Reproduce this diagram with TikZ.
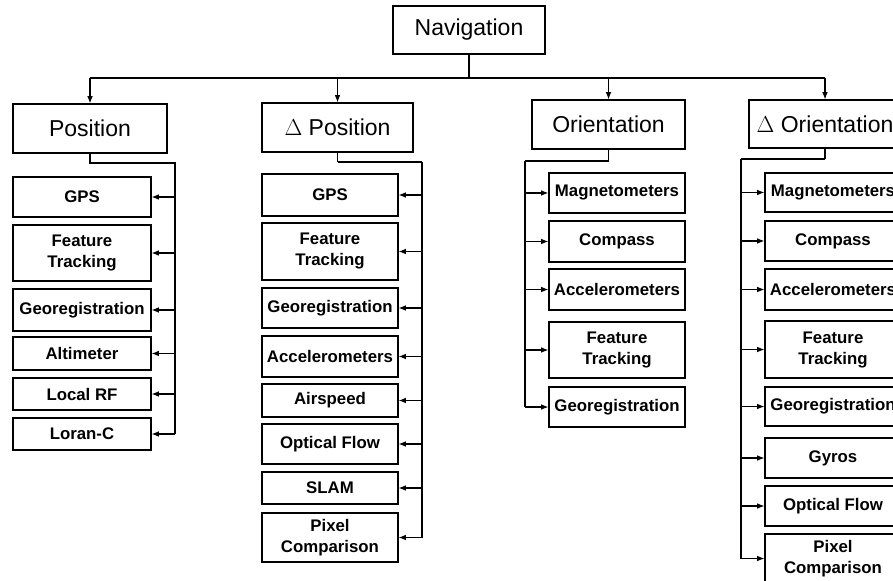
\documentclass[tikz,border=0pt]{standalone}
\usepackage{fontspec}
\setmainfont{Liberation Sans}
\usetikzlibrary{arrows.meta}
\begin{document}
\begin{tikzpicture}[x=0.75pt,y=-0.75pt,
  line width=0.8pt,
  topbox/.style 2 args={draw, line width=0.8pt, inner sep=0pt,
    minimum width=#1*0.75pt, minimum height=#2*0.75pt,
    font=\fontsize{17.25pt}{20pt}\selectfont},
  leaf/.style 2 args={draw, line width=0.8pt, inner sep=0pt, align=center,
    minimum width=#1*0.75pt, minimum height=#2*0.75pt,
    font=\bfseries\fontsize{12.6pt}{15.75pt}\selectfont},
  arr/.style={-{Latex[length=5.5pt,width=4.2pt]}},
  heavy/.style={line width=2pt}]
\clip (0,0) rectangle (893,581);

% top level
\node[topbox={152}{48}] (nav) at (469,30) {Navigation};
\node[topbox={154}{49}] (pos) at (90,128.5) {Position};
\node[topbox={151}{49}] (dpos) at (337.5,127.5) {$\Delta$ Position};
\node[topbox={153}{49}] (ori) at (608.5,124.5) {Orientation};
\node[topbox={152}{48}] (dori) at (825,124) {$\Delta$ Orientation};

% distribution bus
\coordinate (bus) at (469,78);
\draw (nav.south) -- (nav.south |- bus);
\draw (pos.north |- bus) -- (dori.north |- bus);
\foreach \n in {pos,dpos,ori,dori}
  \draw[arr] (\n.north |- bus) -- (\n.north);

% Position branch
\node[leaf={138}{40}] (p1) at (82,197) {GPS};
\node[leaf={138}{56}] (p2) at (82,253) {Feature\\Tracking};
\node[leaf={138}{42}] (p3) at (82,310) {Georegistration};
\node[leaf={138}{33}] (p4) at (82,353.5) {Altimeter};
\node[leaf={138}{32}] (p5) at (82,394) {Local RF};
\node[leaf={138}{32}] (p6) at (82,434) {Loran-C};
\coordinate (pk) at (175,163);
\draw (pos.south) -- (pos.south |- pk) -- (pk) -- (pk |- p6.east);
\foreach \n in {p1,p2,p3,p4,p5,p6}
  \draw[arr] (pk |- \n.east) -- (\n.east);

% Delta Position branch
\node[leaf={136}{42}] (q1) at (330,195) {GPS};
\node[leaf={136}{57}] (q2) at (330,251.5) {Feature\\Tracking};
\node[leaf={136}{40}] (q3) at (330,308) {Georegistration};
\node[leaf={136}{41}] (q4) at (330,356.5) {Accelerometers};
\node[leaf={136}{33}] (q5) at (330,400.5) {Airspeed};
\node[leaf={136}{40}] (q6) at (330,444) {Optical Flow};
\node[leaf={136}{32}] (q7) at (330,488) {SLAM};
\node[leaf={136}{49}] (q8) at (330,537.5) {Pixel\\Comparison};
\coordinate (qk) at (422,162);
\draw (dpos.south) -- (dpos.south |- qk);
\draw[heavy] (dpos.south |- qk) -- (qk);
\draw (qk) -- (qk |- q8.east);
\foreach \n in {q1,q2,q3,q4,q5,q6,q7,q8}
  \draw[arr] (qk |- \n.east) -- (\n.east);

% Orientation branch
\node[leaf={136}{40}] (r1) at (617,193) {Magnetometers};
\node[leaf={136}{41}] (r2) at (617,241.5) {Compass};
\node[leaf={136}{41}] (r3) at (617,289.5) {Accelerometers};
\node[leaf={136}{56}] (r4) at (617,350) {Feature\\Tracking};
\node[leaf={136}{40}] (r5) at (617,407) {Georegistration};
\coordinate (rk) at (525,161);
\draw (ori.south) -- (ori.south |- rk);
\draw[heavy] (ori.south |- rk) -- (rk);
\draw (rk) -- (rk |- r5.west);
\foreach \n in {r1,r2,r3,r4,r5}
  \draw[arr] (rk |- \n.west) -- (\n.west);

% Delta Orientation branch
\node[leaf={136}{39}] (s1) at (833,192.5) {Magnetometers};
\node[leaf={136}{40}] (s2) at (833,241) {Compass};
\node[leaf={136}{41}] (s3) at (833,289.5) {Accelerometers};
\node[leaf={136}{57}] (s4) at (833,349.5) {Feature\\Tracking};
\node[leaf={136}{39}] (s5) at (833,406.5) {Georegistration};
\node[leaf={136}{40}] (s6) at (833,458) {Gyros};
\node[leaf={136}{40}] (s7) at (833,506) {Optical Flow};
\node[leaf={136}{49}] (s8) at (833,558.5) {Pixel\\Comparison};
\coordinate (sk) at (741,159);
\draw (dori.south) -- (dori.south |- sk);
\draw[heavy] (dori.south |- sk) -- (sk);
\draw (sk) -- (sk |- s8.west);
\foreach \n in {s1,s2,s3,s4,s5,s6,s7,s8}
  \draw[arr] (sk |- \n.west) -- (\n.west);
\end{tikzpicture}
\end{document}
